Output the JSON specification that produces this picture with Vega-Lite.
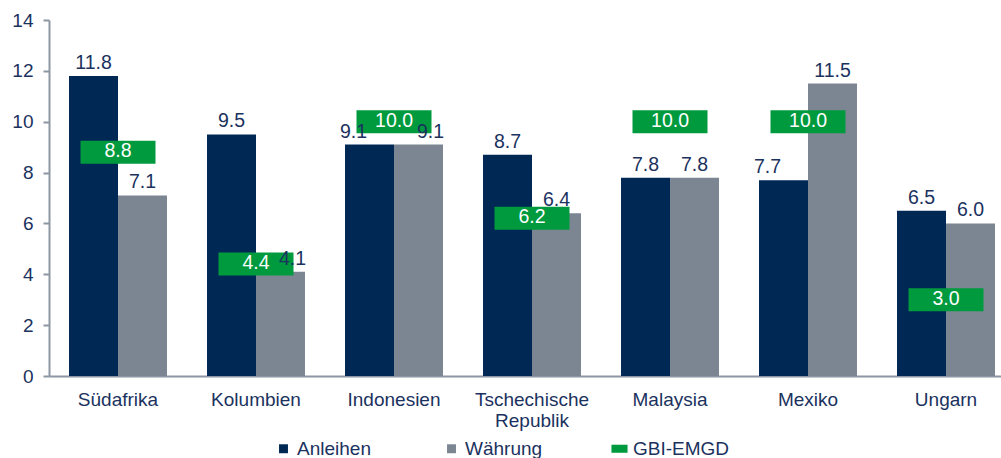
{
  "$schema": "https://vega.github.io/schema/vega-lite/v6.json",
  "autosize": "none",
  "width": 966,
  "height": 356,
  "padding": {"left": 49, "top": 20, "right": 0, "bottom": 82},
  "background": "white",
  "config": {
    "font": "Liberation Sans",
    "view": {"stroke": null},
    "axis": {"labelFont": "Liberation Sans", "labelColor": "#1B325E", "labelFontSize": 19, "domainColor": "#8C97A3", "tickColor": "#8C97A3", "grid": false, "title": null}
  },
  "data": {
    "values": [
      {"country": "Südafrika", "series": "Anleihen", "value": 11.8},
      {"country": "Südafrika", "series": "Währung", "value": 7.1},
      {"country": "Südafrika", "series": "GBI-EMGD", "value": 8.8},
      {"country": "Kolumbien", "series": "Anleihen", "value": 9.5},
      {"country": "Kolumbien", "series": "Währung", "value": 4.1},
      {"country": "Kolumbien", "series": "GBI-EMGD", "value": 4.4},
      {"country": "Indonesien", "series": "Anleihen", "value": 9.1},
      {"country": "Indonesien", "series": "Währung", "value": 9.1},
      {"country": "Indonesien", "series": "GBI-EMGD", "value": 10.0},
      {"country": "Tschechische Republik", "series": "Anleihen", "value": 8.7},
      {"country": "Tschechische Republik", "series": "Währung", "value": 6.4},
      {"country": "Tschechische Republik", "series": "GBI-EMGD", "value": 6.2},
      {"country": "Malaysia", "series": "Anleihen", "value": 7.8},
      {"country": "Malaysia", "series": "Währung", "value": 7.8},
      {"country": "Malaysia", "series": "GBI-EMGD", "value": 10.0},
      {"country": "Mexiko", "series": "Anleihen", "value": 7.7},
      {"country": "Mexiko", "series": "Währung", "value": 11.5},
      {"country": "Mexiko", "series": "GBI-EMGD", "value": 10.0},
      {"country": "Ungarn", "series": "Anleihen", "value": 6.5},
      {"country": "Ungarn", "series": "Währung", "value": 6.0},
      {"country": "Ungarn", "series": "GBI-EMGD", "value": 3.0}
    ]
  },
  "encoding": {
    "x": {
      "field": "country", "type": "nominal", "sort": null,
      "scale": {"paddingInner": 0.29, "paddingOuter": 0.145},
      "axis": {"labelAngle": 0, "ticks": false, "labelPadding": 14, "domainWidth": 2,
        "labelExpr": "datum.value == 'Tschechische Republik' ? ['Tschechische', 'Republik'] : datum.value"}
    },
    "y": {
      "field": "value", "type": "quantitative",
      "scale": {"domain": [0, 14], "nice": false},
      "axis": {"values": [0, 2, 4, 6, 8, 10, 12, 14], "tickSize": 6, "labelPadding": 10, "domainWidth": 2, "tickWidth": 2}
    }
  },
  "layer": [
    {
      "transform": [{"filter": "datum.series != 'GBI-EMGD'"}],
      "mark": {"type": "bar"},
      "encoding": {
        "xOffset": {"field": "series", "type": "nominal", "sort": ["Anleihen", "Währung"], "scale": {"paddingInner": 0}},
        "color": {
          "field": "series", "type": "nominal",
          "scale": {"domain": ["Anleihen", "Währung", "GBI-EMGD"], "range": ["#002855", "#7B8692", "#009A3E"]},
          "legend": {
            "title": null, "orient": "none", "legendX": 225, "legendY": 419,
            "direction": "horizontal", "columns": 3, "gridAlign": "all", "columnPadding": 48,
            "labelFontSize": 19, "labelColor": "#1B325E", "labelFont": "Liberation Sans", "labelOffset": 4,
            "symbolSize": 80, "symbolType": "square", "symbolStrokeWidth": 0,
            "encode": {"symbols": {"update": {"shape": {"signal": "datum.value === 'GBI-EMGD' ? 'M-1.8,-0.9L1.8,-0.9L1.8,0.9L-1.8,0.9Z' : 'square'"}}}}
          }
        }
      }
    },
    {
      "transform": [{"filter": "datum.series == 'GBI-EMGD'"}],
      "mark": {"type": "tick", "size": 75, "thickness": 23, "opacity": 1},
      "encoding": {
        "color": {"field": "series", "type": "nominal"}
      }
    },
    {
      "transform": [{"filter": "datum.series == 'GBI-EMGD'"}],
      "mark": {"type": "text", "baseline": "middle", "dy": -1, "fontSize": 19.5, "color": "white"},
      "encoding": {
        "text": {"field": "value", "type": "quantitative", "format": ".1f"}
      }
    },
    {
      "transform": [{"filter": "datum.series != 'GBI-EMGD' && !((datum.country == 'Indonesien') || (datum.country == 'Kolumbien' && datum.series == 'Währung') || (datum.country == 'Mexiko' && datum.series == 'Anleihen'))"}],
      "mark": {"type": "text", "baseline": "alphabetic", "dy": -7, "fontSize": 19.5, "color": "#1B325E"},
      "encoding": {
        "xOffset": {"field": "series", "type": "nominal", "sort": ["Anleihen", "Währung"]},
        "text": {"field": "value", "type": "quantitative", "format": ".1f"}
      }
    },
    {
      "transform": [{"filter": "datum.country == 'Indonesien' && datum.series == 'Anleihen' || datum.country == 'Mexiko' && datum.series == 'Anleihen'"}],
      "mark": {"type": "text", "baseline": "alphabetic", "dy": -7, "dx": -16, "fontSize": 19.5, "color": "#1B325E"},
      "encoding": {
        "xOffset": {"field": "series", "type": "nominal", "sort": ["Anleihen", "Währung"]},
        "text": {"field": "value", "type": "quantitative", "format": ".1f"}
      }
    },
    {
      "transform": [{"filter": "datum.country == 'Indonesien' && datum.series == 'Währung' || datum.country == 'Kolumbien' && datum.series == 'Währung'"}],
      "mark": {"type": "text", "baseline": "alphabetic", "dy": -7, "dx": 12, "fontSize": 19.5, "color": "#1B325E"},
      "encoding": {
        "xOffset": {"field": "series", "type": "nominal", "sort": ["Anleihen", "Währung"]},
        "text": {"field": "value", "type": "quantitative", "format": ".1f"}
      }
    }
  ]
}
